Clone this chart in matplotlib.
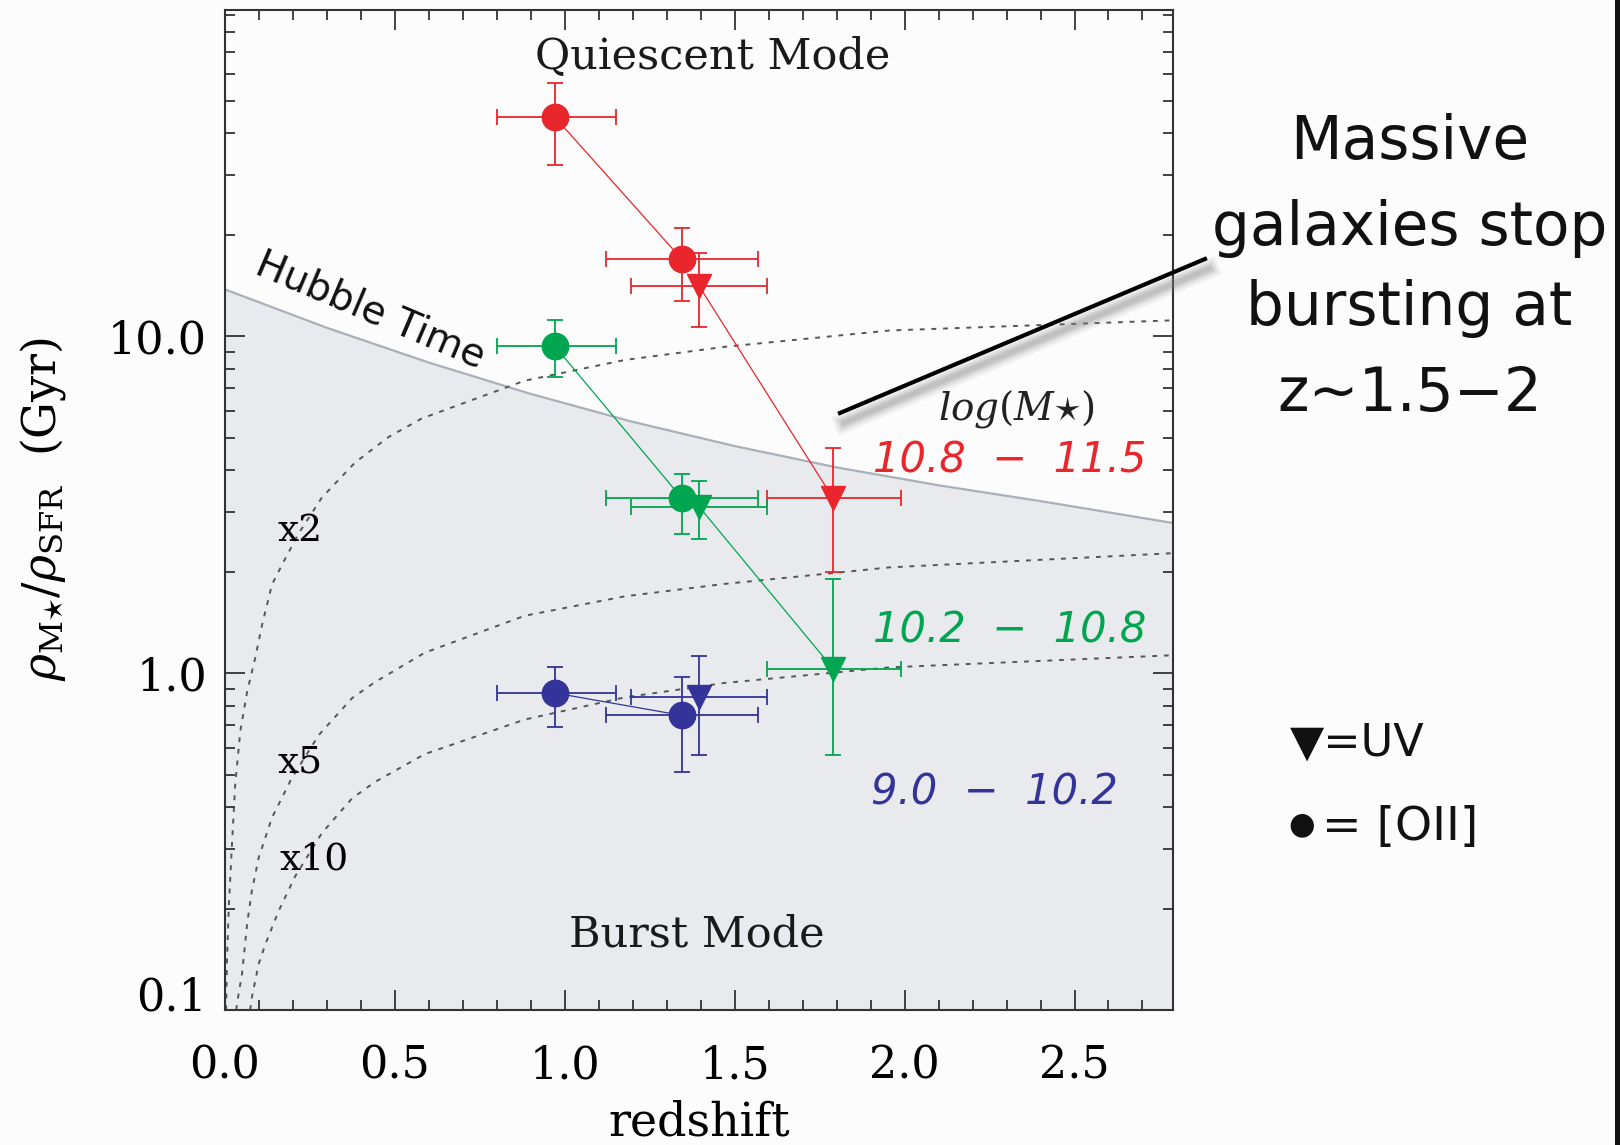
import matplotlib
matplotlib.use("Agg")
import matplotlib.pyplot as plt
import matplotlib.patheffects as pe
from matplotlib.lines import Line2D
from matplotlib.patches import Rectangle
from matplotlib.ticker import MultipleLocator, LogLocator, NullFormatter, FormatStrFormatter

plt.rcParams['font.family'] = 'DejaVu Serif'
plt.rcParams['mathtext.fontset'] = 'dejavuserif'

# redshift bins: [OII] (circles) and UV (triangles)
oii_z = [0.97, 1.345]
oii_z_lo = [0.80, 1.12]
oii_z_hi = [1.15, 1.57]
uv_z = [1.395, 1.79]
uv_z_lo = [1.195, 1.595]
uv_z_hi = [1.595, 1.99]

# rho_M* / rho_SFR in Gyr for each log(M*) bin, with error range
high_oii = [44.8, 16.9]
high_oii_lo = [32.3, 12.7]
high_oii_hi = [56.6, 21.0]
high_uv = [14.1, 3.30]
high_uv_lo = [10.65, 1.99]
high_uv_hi = [17.7, 4.66]

mid_oii = [9.36, 3.30]
mid_oii_lo = [7.57, 2.59]
mid_oii_hi = [11.2, 3.89]
mid_uv = [3.12, 1.03]
mid_uv_lo = [2.50, 0.571]
mid_uv_hi = [3.72, 1.90]

low_oii = [0.873, 0.749]
low_oii_lo = [0.692, 0.509]
low_oii_hi = [1.042, 0.975]
low_uv = [0.849]
low_uv_lo = [0.571]
low_uv_hi = [1.125]

# Hubble time curve
hubble_z = [0.0, 0.3, 0.6, 0.9, 1.2, 1.5, 1.8, 2.1, 2.4, 2.79]
hubble_t = [13.77, 10.59, 8.35, 6.74, 5.57, 4.72, 4.08, 3.61, 3.24, 2.79]

# dotted reference curves
x2_z = [0.003, 0.006, 0.011, 0.021, 0.030, 0.045, 0.065, 0.089, 0.109, 0.138, 0.168,
        0.217, 0.285, 0.383, 0.481, 0.579, 0.882, 1.176, 1.47, 1.956, 2.79]
x2_t = [0.1, 0.143, 0.201, 0.318, 0.467, 0.672, 0.88, 1.11, 1.39, 1.83, 2.1,
        2.6, 3.32, 4.22, 5.02, 5.7, 7.38, 8.5, 9.3, 10.4, 11.15]
x5_z = [0.033, 0.035, 0.050, 0.065, 0.079, 0.099, 0.138, 0.197, 0.276, 0.374, 0.441,
        0.588, 0.882, 1.176, 1.47, 1.956, 2.79]
x5_t = [0.1, 0.104, 0.128, 0.18, 0.226, 0.283, 0.372, 0.489, 0.655, 0.843, 0.94,
        1.15, 1.48, 1.69, 1.84, 2.06, 2.27]
x10_z = [0.074, 0.079, 0.099, 0.119, 0.158, 0.207, 0.285, 0.374, 0.441, 0.588, 0.882,
         1.176, 1.47, 1.956, 2.79]
x10_t = [0.1, 0.109, 0.137, 0.157, 0.197, 0.25, 0.335, 0.425, 0.475, 0.575, 0.728,
         0.847, 0.935, 1.04, 1.13]

mass_labels = ['10.8  \u2212  11.5', '10.2  \u2212  10.8', '9.0  \u2212  10.2']
red, green, blue = '#e8262b', '#00a64f', '#333399'


def spread(c, lo, hi):
    return [[a - b for a, b in zip(c, lo)], [b - a for a, b in zip(c, hi)]]


fig = plt.figure(figsize=(16.2, 11.45), dpi=100, facecolor='#fcfcfc')
ax = fig.add_axes([0.1389, 0.1179, 0.5852, 0.8734])
ax.set_facecolor('#fcfcfc')
ax.set_yscale('log')
ax.set_xlim(0, 2.79)
ax.set_ylim(0.1, 93)

# burst region below the Hubble time
ax.fill_between(hubble_z, 0.1, hubble_t, color='#e9eaee', lw=0, zorder=0)
ax.plot(hubble_z, hubble_t, color='#aab0b8', lw=1.6, zorder=1)

dots = dict(color='#555555', lw=1.4, linestyle=(0, (2.5, 3.5)), zorder=1)
ax.plot(x2_z, x2_t, **dots)
ax.plot(x5_z, x5_t, **dots)
ax.plot(x10_z, x10_t, **dots)

eb = dict(elinewidth=1.3, capsize=5.5, capthick=1.3, lw=0.9, zorder=3)
for col, oii, olo, ohi, uv, ulo, uhi in [
        (red, high_oii, high_oii_lo, high_oii_hi, high_uv, high_uv_lo, high_uv_hi),
        (green, mid_oii, mid_oii_lo, mid_oii_hi, mid_uv, mid_uv_lo, mid_uv_hi),
        (blue, low_oii, low_oii_lo, low_oii_hi, low_uv, low_uv_lo, low_uv_hi)]:
    ax.errorbar(oii_z, oii, yerr=spread(oii, olo, ohi),
                xerr=spread(oii_z, oii_z_lo, oii_z_hi),
                color=col, marker='o', ms=19, **eb)
    n = len(uv)
    ax.errorbar(uv_z[:n], uv, yerr=spread(uv, ulo, uhi),
                xerr=spread(uv_z[:n], uv_z_lo[:n], uv_z_hi[:n]),
                color=col, marker='v', ms=17, **eb)

# text inside the plot
ax.text(1.435, 67.5, 'Quiescent Mode', fontsize=31, ha='center', va='center', color='#1a1a1a')
ax.text(1.389, 0.1676, 'Burst Mode', fontsize=31, ha='center', va='center', color='#1a1a1a')
ax.text(0.429, 11.9, 'Hubble Time', family='DejaVu Sans', fontsize=28, rotation=-23,
        rotation_mode='anchor', ha='center', va='center', color='#111111')
ax.text(0.22, 2.65, 'x2', fontsize=27, ha='center', va='center')
ax.text(0.22, 0.541, 'x5', fontsize=27, ha='center', va='center')
ax.text(0.262, 0.279, 'x10', fontsize=27, ha='center', va='center')
ax.text(2.33, 6.08, r'$log(M{\star})$', fontsize=28, ha='center', va='center', color='#222222')
ax.text(2.309, 4.27, mass_labels[0], family='DejaVu Sans', style='italic', fontsize=30,
        ha='center', va='center', color=red)
ax.text(2.309, 1.34, mass_labels[1], family='DejaVu Sans', style='italic', fontsize=30,
        ha='center', va='center', color=green)
ax.text(2.265, 0.441, mass_labels[2], family='DejaVu Sans', style='italic', fontsize=30,
        ha='center', va='center', color=blue)

# axes, ticks and labels
ax.set_yticks([0.1, 1, 10])
ax.set_yticklabels(['0.1', '1.0', '10.0'])
ax.yaxis.set_minor_locator(LogLocator(base=10, subs=range(2, 10), numticks=20))
ax.yaxis.set_minor_formatter(NullFormatter())
ax.xaxis.set_major_locator(MultipleLocator(0.5))
ax.xaxis.set_minor_locator(MultipleLocator(0.1))
ax.xaxis.set_major_formatter(FormatStrFormatter('%.1f'))
ax.tick_params(which='both', direction='in', top=True, right=True, color='#333333', width=1.3)
ax.tick_params(which='major', length=14.5)
ax.tick_params(which='minor', length=7.2)
ax.tick_params(axis='x', labelsize=32, pad=25)
ax.tick_params(axis='y', labelsize=32, pad=13)
ax.get_yticklabels()[0].set_va('baseline')
for s in ax.spines.values():
    s.set_color('#333333')
    s.set_linewidth(1.5)

ax.set_xlabel('redshift', fontsize=33, va='top')
ax.xaxis.set_label_coords(0.5, -0.09)
ax.set_ylabel(r'$\rho_{\mathrm{M}{\star}}/\rho_{\mathrm{SFR}}\ \ (\mathrm{Gyr})$', fontsize=33, va='center')
ax.yaxis.set_label_coords(-0.192, 0.501)

# callout line with a soft shadow
shadow = [pe.SimpleLineShadow(offset=(3, -7), shadow_color='#808080', alpha=a, linewidth=w)
          for a, w in [(0.10, 14), (0.12, 10), (0.15, 7), (0.2, 4)]]
callout = Line2D([0.5185, 0.7438], [0.6393, 0.7738], transform=fig.transFigure, color='black', lw=3,
                 path_effects=shadow + [pe.Normal()])
fig.add_artist(callout)

for line, ybase in zip(['Massive', 'galaxies stop', 'bursting at', 'z~1.5\u22122'], [159, 245, 325, 411]):
    fig.text(0.870, 1 - ybase / 1145, line, family='DejaVu Sans', fontsize=43, ha='center', va='baseline',
             color='#111111')

fig.text(1290 / 1620, 1 - 756 / 1145, '\u25bc=UV', family='DejaVu Sans', fontsize=32, va='baseline',
         color='#111111')
fig.text(1288 / 1620, 1 - 833 / 1145, '\u25cf', family='DejaVu Sans', fontsize=22, va='baseline',
         color='#111111')
fig.text(1322 / 1620, 1 - 840 / 1145, '= [OII]', family='DejaVu Sans', fontsize=34, va='baseline',
         color='#111111')

fig.add_artist(Rectangle((1615 / 1620, 0), 5 / 1620, 1, transform=fig.transFigure, color='#111111', lw=0))

fig.savefig('out.png', dpi=100, facecolor=fig.get_facecolor())
